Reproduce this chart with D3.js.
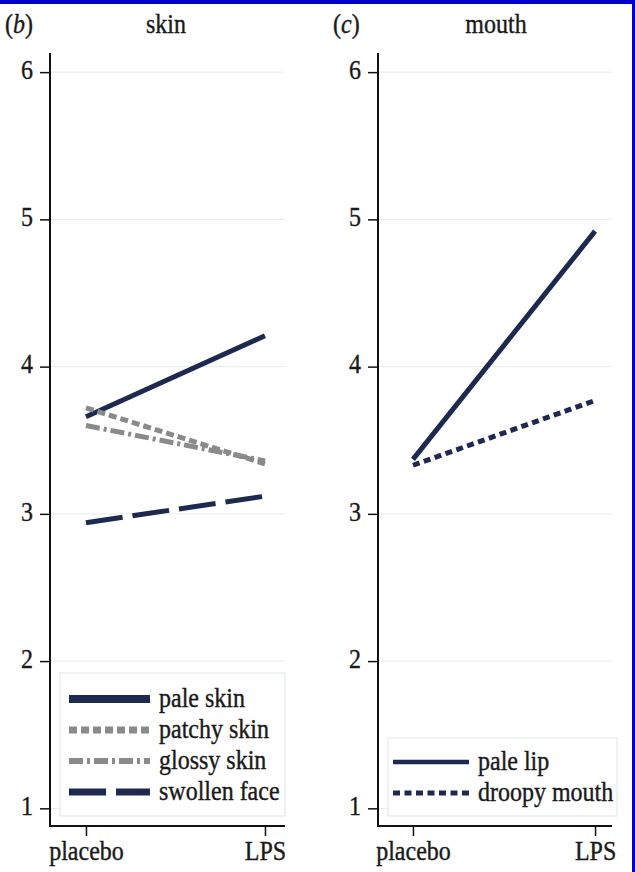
<!DOCTYPE html>
<html>
<head>
<meta charset="utf-8">
<script src="https://cdn.jsdelivr.net/npm/d3@7"></script>
<style>
  html, body { margin: 0; padding: 0; background: #fff; }
  svg { display: block; }
  text { font-family: "Liberation Serif", "Times New Roman", serif; fill: #1a1a1a; stroke: #1a1a1a; stroke-width: 0.35px; }
</style>
</head>
<body>
<svg id="chart" width="635" height="872"></svg>
<script>
// ---------- data ----------
const categories = ["placebo", "LPS"];
const yTicks = [1, 2, 3, 4, 5, 6];

const skinNames = ["pale skin", "patchy skin", "glossy skin", "swollen face"];
const paleSkin = [3.66, 4.21];
const patchySkin = [3.72, 3.34];
const glossySkin = [3.60, 3.36];
const swollenFace = [2.94, 3.12];

const mouthNames = ["pale lip", "droopy mouth"];
const paleLip = [3.37, 4.92];
const droopyMouth = [3.33, 3.77];

// ---------- styles ----------
const NAVY = "#1e2950", GREY = "#8a8a8a";
const styles = {
  "pale skin":    { color: NAVY, dash: null,        w: 5, lw: 8 },
  "patchy skin":  { color: GREY, dash: "8,4",       w: 5, lw: 7 },
  "glossy skin":  { color: GREY, dash: "14,4,3,4",  w: 5, lw: 6 },
  "swollen face": { color: NAVY, dash: "37,10",     w: 5, lw: 7 },
  "pale lip":     { color: NAVY, dash: null,        w: 5, lw: 4.5 },
  "droopy mouth": { color: NAVY, dash: "7,4.5",     w: 5, lw: 5 }
};

const svg = d3.select("#chart");
const SY = 1.1; // vertical stretch of glyphs

const panels = [
  { tag: "b", title: "skin", names: skinNames, values: [paleSkin, patchySkin, glossySkin, swollenFace],
    x0: 50, x1: 285, xDom: [-0.201, 1.112], tagX: 5, titleX: 166,
    legend: { x: 60, y: 673, w: 225, h: 143, lineX0: 69, lineX1: 150, textX: 159, rowY0: 699, rowDy: 31 } },
  { tag: "c", title: "mouth", names: mouthNames, values: [paleLip, droopyMouth],
    x0: 378, x1: 612, xDom: [-0.192, 1.093], tagX: 333, titleX: 496,
    legend: { x: 388, y: 738, w: 229, h: 78, lineX0: 393, lineX1: 469, textX: 478, rowY0: 762, rowDy: 31 } }
];

const yTop = 53, yBot = 826;
const yScale = d3.scaleLinear().domain([0.88, 6.13]).range([yBot, yTop]);

function stretchText(sel, x, y) {
  sel.attr("transform", `translate(${x},${y}) scale(1,${SY})`);
}

panels.forEach(p => {
  const g = svg.append("g");
  const xScale = d3.scaleLinear().domain(p.xDom).range([p.x0, p.x1]);

  // gridlines
  g.append("g").selectAll("line").data(yTicks).join("line")
    .attr("x1", p.x0).attr("x2", p.x1)
    .attr("y1", d => yScale(d)).attr("y2", d => yScale(d))
    .attr("stroke", "#e6ebee").attr("stroke-width", 1);

  // title & tag
  const tag = g.append("text").attr("font-size", 24);
  stretchText(tag, p.tagX, 33);
  tag.append("tspan").text("(");
  tag.append("tspan").attr("font-style", "italic").text(p.tag);
  tag.append("tspan").text(")");
  const tt = g.append("text").attr("font-size", 24).attr("text-anchor", "middle").text(p.title);
  stretchText(tt, p.titleX, 33);

  // y axis
  const yAxis = d3.axisLeft(yScale).tickValues(yTicks).tickFormat(d3.format("d"))
    .tickSize(10).tickPadding(7);
  const ya = g.append("g").attr("transform", `translate(${p.x0},0)`).call(yAxis);
  ya.select(".domain").attr("d", `M0,${yTop}V${yBot}`).attr("stroke", "#111").attr("stroke-width", 2);
  ya.selectAll(".tick line").attr("stroke", "#111").attr("stroke-width", 1.5);
  ya.selectAll(".tick text").attr("font-size", 24).attr("font-family", "Liberation Serif")
    .attr("fill", "#1a1a1a").attr("dy", "0.24em").attr("transform", `scale(1,${SY})`);

  // x axis
  const xAxis = d3.axisBottom(xScale).tickValues([0, 1]).tickFormat(i => categories[i])
    .tickSize(10).tickPadding(7);
  const xa = g.append("g").attr("transform", `translate(0,${yBot})`).call(xAxis);
  xa.select(".domain").attr("d", `M${p.x0 - 1},0H${p.x1}`).attr("stroke", "#111").attr("stroke-width", 2);
  xa.selectAll(".tick line").attr("stroke", "#111").attr("stroke-width", 1.5);
  xa.selectAll(".tick text").attr("font-size", 24).attr("font-family", "Liberation Serif")
    .attr("fill", "#1a1a1a").attr("y", 31).attr("dy", 0).attr("transform", `scale(1,${SY})`);

  // series lines
  const line = d3.line().x((d, i) => xScale(i)).y(d => yScale(d));
  p.names.forEach((name, k) => {
    const s = styles[name];
    g.append("path").datum(p.values[k])
      .attr("d", line).attr("fill", "none")
      .attr("stroke", s.color).attr("stroke-width", s.w)
      .attr("stroke-dasharray", s.dash);
  });

  // legend
  const L = p.legend;
  const lg = g.append("g");
  lg.append("rect").attr("x", L.x).attr("y", L.y).attr("width", L.w).attr("height", L.h)
    .attr("fill", "#fff").attr("stroke", "#e4e9ec").attr("stroke-width", 1.2);
  p.names.forEach((name, k) => {
    const s = styles[name];
    const yy = L.rowY0 + k * L.rowDy;
    lg.append("line").attr("x1", L.lineX0).attr("x2", L.lineX1).attr("y1", yy).attr("y2", yy)
      .attr("stroke", s.color).attr("stroke-width", s.lw).attr("stroke-dasharray", s.dash);
    const t = lg.append("text").attr("font-size", 24).attr("dy", "0.3em").text(name);
    stretchText(t, L.textX, yy);
  });
});

// blue frame (cropped: top and right edges)
svg.append("rect").attr("x", 0).attr("y", 0).attr("width", 635).attr("height", 4).attr("fill", "#0000c8");
svg.append("rect").attr("x", 632).attr("y", 0).attr("width", 3).attr("height", 872).attr("fill", "#0000c8");
</script>
</body>
</html>
